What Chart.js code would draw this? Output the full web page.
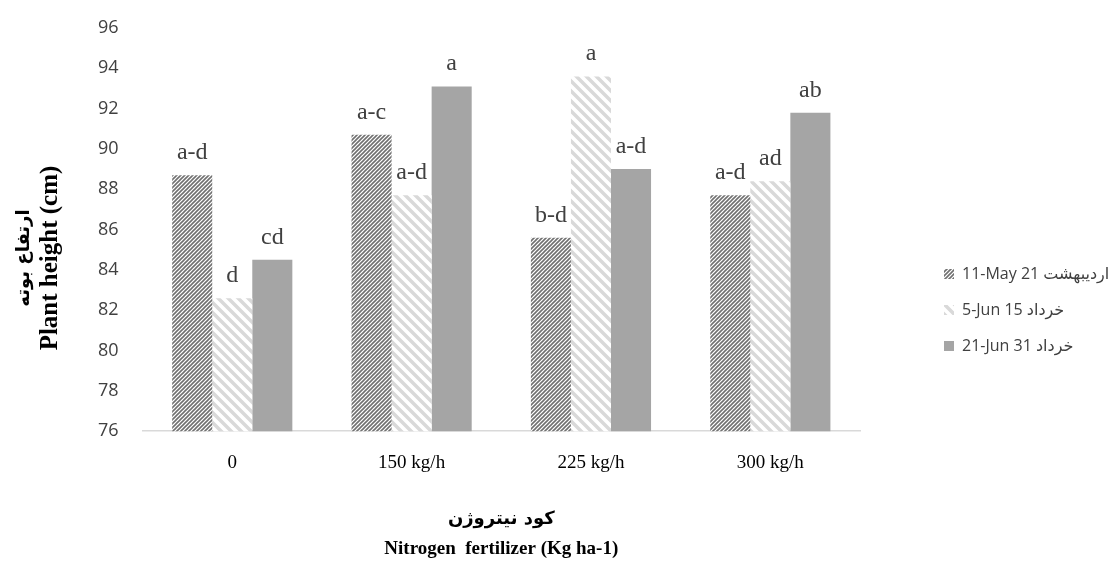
<!DOCTYPE html>
<html>
<head>
<meta charset="utf-8">
<script src="https://cdn.jsdelivr.net/npm/chart.js@4/dist/chart.umd.min.js"></script>
<style>
  html, body { margin: 0; padding: 0; background: #fff; }
  #wrap { width: 1113px; height: 566px; position: relative; }
</style>
</head>
<body>
<div id="wrap"><canvas id="chart"></canvas></div>
<script>
const categories = ['0', '150 kg/h', '225 kg/h', '300 kg/h'];
const seriesNames = ['11-May 21 اردیبهشت', '5-Jun 15 خرداد', '21-Jun 31 خرداد'];
const may11 = [88.7, 90.7, 85.6, 87.7];
const jun5 = [82.6, 87.7, 93.6, 88.4];
const jun21 = [84.5, 93.1, 89.0, 91.8];
const may11Letters = ['a-d', 'a-c', 'b-d', 'a-d'];
const jun5Letters = ['d', 'a-d', 'a', 'ad'];
const jun21Letters = ['cd', 'a', 'a-d', 'ab'];
const yTitle = ['ارتفاع بوته', 'Plant height (cm)'];
const xTitle = ['کود نیتروژن', 'Nitrogen  fertilizer (Kg ha-1)'];

function stripes(size, color, width, up) {
  const c = document.createElement('canvas');
  c.width = size; c.height = size;
  const g = c.getContext('2d');
  g.fillStyle = '#fff';
  g.fillRect(0, 0, size, size);
  g.strokeStyle = color;
  g.lineWidth = width;
  g.beginPath();
  if (up) {
    g.moveTo(-size, size); g.lineTo(size, -size);
    g.moveTo(0, 2 * size); g.lineTo(2 * size, 0);
    g.moveTo(0, size); g.lineTo(size, 0);
  } else {
    g.moveTo(-size, 0); g.lineTo(size, 2 * size);
    g.moveTo(0, -size); g.lineTo(2 * size, size);
    g.moveTo(0, 0); g.lineTo(size, size);
  }
  g.stroke();
  return g.createPattern(c, 'repeat');
}

// letters above each bar
const letterLabels = {
  id: 'letterLabels',
  afterDatasetsDraw(chart) {
    const { ctx } = chart;
    const sets = [may11Letters, jun5Letters, jun21Letters];
    ctx.save();
    ctx.font = '24px "Liberation Serif", "Times New Roman", serif';
    ctx.fillStyle = '#404040';
    ctx.textAlign = 'center';
    ctx.textBaseline = 'alphabetic';
    sets.forEach((letters, i) => {
      chart.getDatasetMeta(i).data.forEach((bar, j) => {
        ctx.fillText(letters[j], bar.x, bar.y - 16);
      });
    });
    ctx.restore();
  }
};

// axis titles (two fonts per title, so drawn by hand)
const axisTitles = {
  id: 'axisTitles',
  afterDraw(chart) {
    const { ctx, chartArea } = chart;
    const cx = (chartArea.left + chartArea.right) / 2;
    ctx.save();
    ctx.fillStyle = '#000';
    ctx.textAlign = 'center';
    ctx.textBaseline = 'middle';
    ctx.font = 'bold 18px "DejaVu Sans", sans-serif';
    ctx.fillText(xTitle[0], cx, 519);
    ctx.font = 'bold 19px "Liberation Serif", serif';
    ctx.fillText(xTitle[1], cx, 549);

    ctx.translate(0, 258);
    ctx.rotate(-Math.PI / 2);
    ctx.font = 'bold 18px "DejaVu Sans", sans-serif';
    ctx.fillText(yTitle[0], 0, 24);
    ctx.font = 'bold 25px "Liberation Serif", serif';
    ctx.fillText(yTitle[1], 0, 51);
    ctx.restore();
  }
};

// legend sits apart from the plot on the right
const legendPlace = {
  id: 'legendPlace',
  beforeLayout(chart) {
    const legend = chart.legend;
    if (legend && !legend._wrapped) {
      const fit = legend.fit.bind(legend);
      legend.fit = () => { fit(); legend.width = 253; };
      legend._wrapped = true;
    }
  },
  afterLayout(chart) {
    const legend = chart.legend;
    legend.left += 64; legend.right += 64;
    legend.top += 49; legend.bottom += 49;
  }
};

new Chart(document.getElementById('chart'), {
  type: 'bar',
  data: {
    labels: categories,
    datasets: [
      { label: seriesNames[0], data: may11, backgroundColor: stripes(4, '#707070', 1.6, true) },
      { label: seriesNames[1], data: jun5, backgroundColor: stripes(10, '#d9d9d9', 3.5, false) },
      { label: seriesNames[2], data: jun21, backgroundColor: '#a5a5a5' },
    ]
  },
  options: {
    responsive: true,
    maintainAspectRatio: false,
    animation: false,
    layout: { padding: { left: 94, right: 0, top: 28, bottom: 72 } },
    datasets: { bar: { categoryPercentage: 0.67, barPercentage: 1.0 } },
    plugins: {
      tooltip: { enabled: false },
      legend: {
        position: 'right',
        labels: {
          boxWidth: 10, boxHeight: 10, padding: 20, color: '#404040',
          font: { family: '"Open Sans", "DejaVu Sans", sans-serif', size: 16 }
        }
      }
    },
    scales: {
      x: {
        grid: { display: false, drawTicks: false },
        border: { color: '#d9d9d9', width: 1.5 },
        ticks: { color: '#000', padding: 20, font: { family: '"Liberation Serif", serif', size: 19 } }
      },
      y: {
        min: 76, max: 96,
        grid: { drawOnChartArea: false, drawTicks: true, tickLength: 20, tickColor: 'rgba(0,0,0,0)' },
        border: { display: false },
        ticks: { stepSize: 2, color: '#404040', padding: 4, font: { family: '"Open Sans", sans-serif', size: 18 } }
      }
    }
  },
  plugins: [letterLabels, axisTitles, legendPlace]
});
</script>
</body>
</html>
